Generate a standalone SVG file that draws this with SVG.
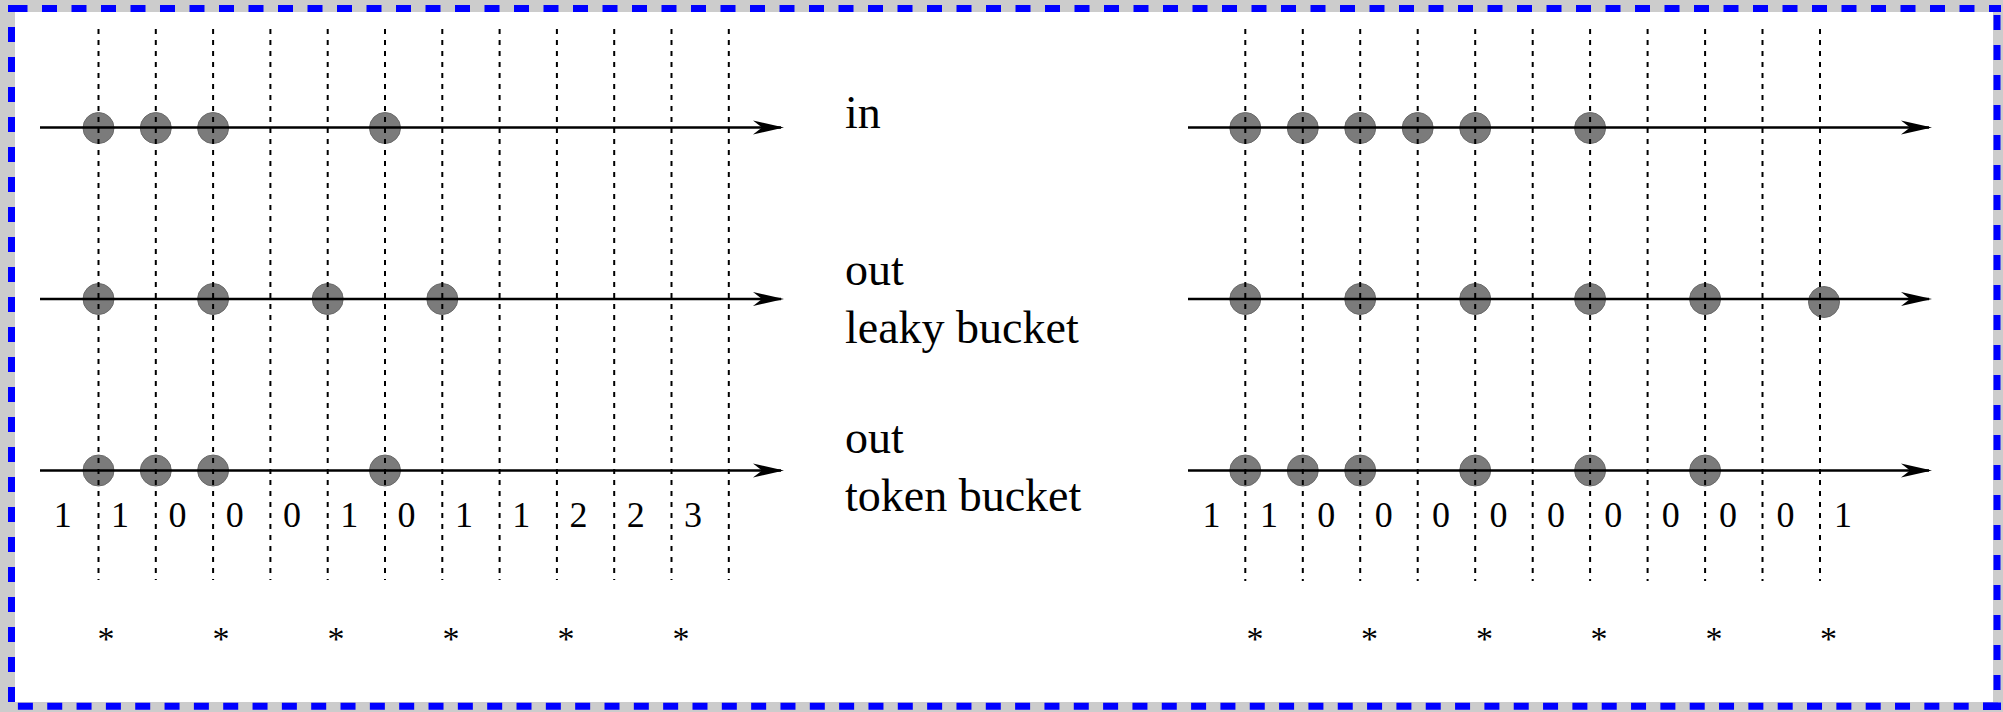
<svg xmlns="http://www.w3.org/2000/svg" width="2003" height="712" viewBox="0 0 2003 712">
  <style>
    .frame { fill: none; stroke: #0000ff; stroke-width: 7; }
    .tick { stroke: #000; stroke-width: 2; stroke-dasharray: 5 6; }
    .axis { stroke: #000; stroke-width: 2.6; fill: none; }
    .pkt { fill: #7b7b7b; stroke: #6a6a6a; stroke-width: 1; }
    .lbl { font-family: "Liberation Serif", "Times New Roman", serif; font-size: 46px; fill: #000; }
    .num { font-family: "Liberation Serif", "Times New Roman", serif; font-size: 36px; fill: #000; text-anchor: middle; }
    .star { font-family: "Liberation Serif", "Times New Roman", serif; font-size: 34px; fill: #000; text-anchor: middle; }
  </style>
  <defs>
    <marker id="head" markerUnits="userSpaceOnUse" markerWidth="32" markerHeight="16" refX="28" refY="7.5" orient="auto" overflow="visible">
      <path d="M31,7.5 L0,0.5 L9,7.5 L0,14.5 Z" fill="#000"/>
    </marker>
  </defs>

  <!-- page frame -->
  <g id="frame">
    <rect x="0" y="0" width="2003" height="712" fill="#cccccc"/>
    <rect x="15" y="12" width="1978" height="690" fill="#ffffff"/>
    <line class="frame" x1="8" y1="8.5" x2="2001" y2="8.5" stroke-dasharray="15 14.5" stroke-dashoffset="25"/>
    <line class="frame" x1="11.5" y1="12" x2="11.5" y2="702" stroke-dasharray="15 15" stroke-dashoffset="15"/>
    <line class="frame" x1="1997" y1="12" x2="1997" y2="702" stroke-dasharray="15 15" stroke-dashoffset="27"/>
    <line class="frame" x1="15" y1="706.3" x2="2001" y2="706.3" stroke-dasharray="15 14.33" stroke-dashoffset="26.43"/>
    <rect x="8" y="5" width="19" height="7" fill="#0000ff"/>
    <rect x="1983" y="702.5" width="18" height="7.5" fill="#0000ff"/>
  </g>

  <!-- left scenario: packets -->
  <g id="left-in">
    <circle class="pkt" cx="98.5" cy="128" r="15.5"/>
    <circle class="pkt" cx="155.8" cy="128" r="15.5"/>
    <circle class="pkt" cx="213.1" cy="128" r="15.5"/>
    <circle class="pkt" cx="385" cy="128" r="15.5"/>
  </g>
  <g id="left-leaky">
    <circle class="pkt" cx="98.5" cy="299" r="15.5"/>
    <circle class="pkt" cx="213.1" cy="299" r="15.5"/>
    <circle class="pkt" cx="327.7" cy="299" r="15.5"/>
    <circle class="pkt" cx="442.3" cy="299" r="15.5"/>
  </g>
  <g id="left-token">
    <circle class="pkt" cx="98.5" cy="470.5" r="15.5"/>
    <circle class="pkt" cx="155.8" cy="470.5" r="15.5"/>
    <circle class="pkt" cx="213.1" cy="470.5" r="15.5"/>
    <circle class="pkt" cx="385" cy="470.5" r="15.5"/>
  </g>

  <!-- right scenario: packets -->
  <g id="right-in">
    <circle class="pkt" cx="1245.3" cy="128" r="15.5"/>
    <circle class="pkt" cx="1302.8" cy="128" r="15.5"/>
    <circle class="pkt" cx="1360.2" cy="128" r="15.5"/>
    <circle class="pkt" cx="1417.7" cy="128" r="15.5"/>
    <circle class="pkt" cx="1475.2" cy="128" r="15.5"/>
    <circle class="pkt" cx="1590.1" cy="128" r="15.5"/>
  </g>
  <g id="right-leaky">
    <circle class="pkt" cx="1245.3" cy="299" r="15.5"/>
    <circle class="pkt" cx="1360.2" cy="299" r="15.5"/>
    <circle class="pkt" cx="1475.2" cy="299" r="15.5"/>
    <circle class="pkt" cx="1590.1" cy="299" r="15.5"/>
    <circle class="pkt" cx="1705.1" cy="299" r="15.5"/>
    <circle class="pkt" cx="1824" cy="302" r="15.5"/>
  </g>
  <g id="right-token">
    <circle class="pkt" cx="1245.3" cy="470.5" r="15.5"/>
    <circle class="pkt" cx="1302.8" cy="470.5" r="15.5"/>
    <circle class="pkt" cx="1360.2" cy="470.5" r="15.5"/>
    <circle class="pkt" cx="1475.2" cy="470.5" r="15.5"/>
    <circle class="pkt" cx="1590.1" cy="470.5" r="15.5"/>
    <circle class="pkt" cx="1705.1" cy="470.5" r="15.5"/>
  </g>

  <!-- time slot boundaries -->
  <g id="slots-left">
    <line class="tick" x1="98.5" y1="29" x2="98.5" y2="580"/>
    <line class="tick" x1="155.8" y1="29" x2="155.8" y2="580"/>
    <line class="tick" x1="213.1" y1="29" x2="213.1" y2="580"/>
    <line class="tick" x1="270.4" y1="29" x2="270.4" y2="580"/>
    <line class="tick" x1="327.7" y1="29" x2="327.7" y2="580"/>
    <line class="tick" x1="385" y1="29" x2="385" y2="580"/>
    <line class="tick" x1="442.3" y1="29" x2="442.3" y2="580"/>
    <line class="tick" x1="499.6" y1="29" x2="499.6" y2="580"/>
    <line class="tick" x1="556.9" y1="29" x2="556.9" y2="580"/>
    <line class="tick" x1="614.2" y1="29" x2="614.2" y2="580"/>
    <line class="tick" x1="671.5" y1="29" x2="671.5" y2="580"/>
    <line class="tick" x1="728.8" y1="29" x2="728.8" y2="580"/>
  </g>
  <g id="slots-right">
    <line class="tick" x1="1245.3" y1="29" x2="1245.3" y2="581"/>
    <line class="tick" x1="1302.8" y1="29" x2="1302.8" y2="581"/>
    <line class="tick" x1="1360.2" y1="29" x2="1360.2" y2="581"/>
    <line class="tick" x1="1417.7" y1="29" x2="1417.7" y2="581"/>
    <line class="tick" x1="1475.2" y1="29" x2="1475.2" y2="581"/>
    <line class="tick" x1="1532.7" y1="29" x2="1532.7" y2="581"/>
    <line class="tick" x1="1590.1" y1="29" x2="1590.1" y2="581"/>
    <line class="tick" x1="1647.6" y1="29" x2="1647.6" y2="581"/>
    <line class="tick" x1="1705.1" y1="29" x2="1705.1" y2="581"/>
    <line class="tick" x1="1762.5" y1="29" x2="1762.5" y2="581"/>
    <line class="tick" x1="1820" y1="29" x2="1820" y2="581"/>
  </g>

  <!-- time axes -->
  <g id="connectors">
    <line class="axis" x1="40" y1="127.5" x2="781" y2="127.5" marker-end="url(#head)"/>
    <line class="axis" x1="40" y1="299" x2="781" y2="299" marker-end="url(#head)"/>
    <line class="axis" x1="40" y1="470.5" x2="781" y2="470.5" marker-end="url(#head)"/>
    <line class="axis" x1="1188" y1="127.5" x2="1929" y2="127.5" marker-end="url(#head)"/>
    <line class="axis" x1="1188" y1="299" x2="1929" y2="299" marker-end="url(#head)"/>
    <line class="axis" x1="1188" y1="470.5" x2="1929" y2="470.5" marker-end="url(#head)"/>
  </g>

  <!-- row labels -->
  <g id="labels">
    <text class="lbl" x="845" y="128">in</text>
    <text class="lbl" x="845" y="285">out</text>
    <text class="lbl" x="845" y="343">leaky bucket</text>
    <text class="lbl" x="845" y="453">out</text>
    <text class="lbl" x="845" y="511">token bucket</text>
  </g>

  <!-- token counts per slot -->
  <g id="counts-left">
    <text class="num" x="62.8" y="527">1</text>
    <text class="num" x="120.1" y="527">1</text>
    <text class="num" x="177.4" y="527">0</text>
    <text class="num" x="234.7" y="527">0</text>
    <text class="num" x="292" y="527">0</text>
    <text class="num" x="349.3" y="527">1</text>
    <text class="num" x="406.6" y="527">0</text>
    <text class="num" x="463.9" y="527">1</text>
    <text class="num" x="521.2" y="527">1</text>
    <text class="num" x="578.5" y="527">2</text>
    <text class="num" x="635.8" y="527">2</text>
    <text class="num" x="693.1" y="527">3</text>
  </g>
  <g id="counts-right">
    <text class="num" x="1211.5" y="527">1</text>
    <text class="num" x="1268.9" y="527">1</text>
    <text class="num" x="1326.3" y="527">0</text>
    <text class="num" x="1383.7" y="527">0</text>
    <text class="num" x="1441.1" y="527">0</text>
    <text class="num" x="1498.5" y="527">0</text>
    <text class="num" x="1555.9" y="527">0</text>
    <text class="num" x="1613.3" y="527">0</text>
    <text class="num" x="1670.7" y="527">0</text>
    <text class="num" x="1728.1" y="527">0</text>
    <text class="num" x="1785.5" y="527">0</text>
    <text class="num" x="1842.9" y="527">1</text>
  </g>

  <!-- token arrival marks -->
  <g id="ticks-left">
    <text class="star" x="106" y="650">*</text>
    <text class="star" x="221" y="650">*</text>
    <text class="star" x="336" y="650">*</text>
    <text class="star" x="451" y="650">*</text>
    <text class="star" x="566" y="650">*</text>
    <text class="star" x="681" y="650">*</text>
  </g>
  <g id="ticks-right">
    <text class="star" x="1255" y="650">*</text>
    <text class="star" x="1369.5" y="650">*</text>
    <text class="star" x="1484.5" y="650">*</text>
    <text class="star" x="1599" y="650">*</text>
    <text class="star" x="1714" y="650">*</text>
    <text class="star" x="1828.5" y="650">*</text>
  </g>
</svg>
